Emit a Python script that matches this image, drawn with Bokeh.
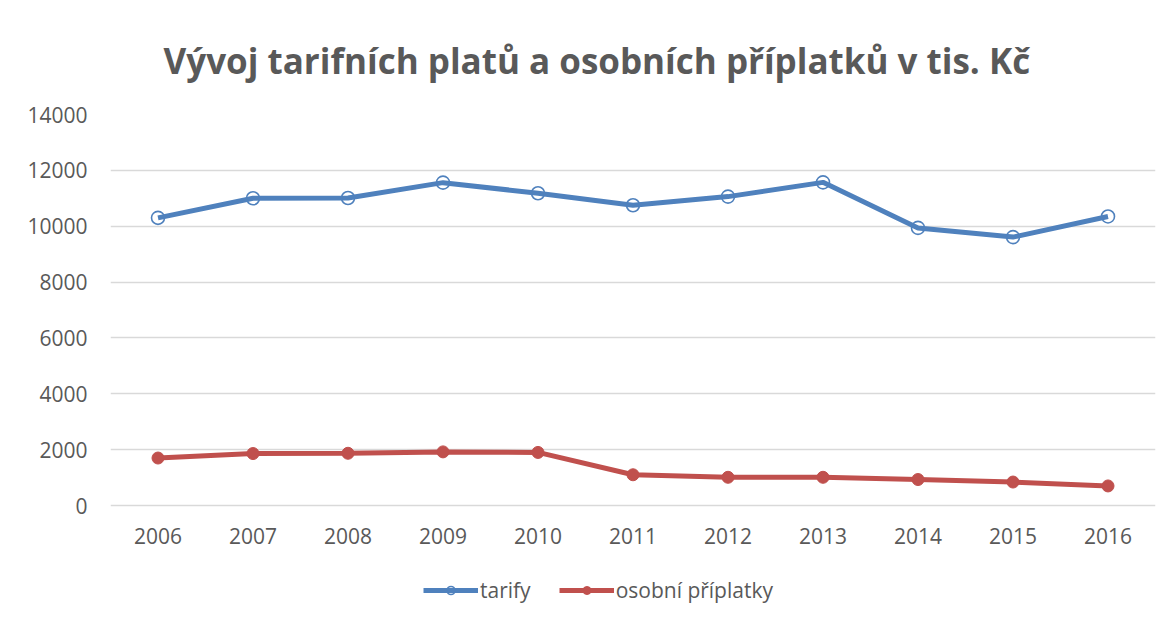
from bokeh.plotting import figure
from bokeh.models import Range1d, FixedTicker, Legend, LegendItem
from bokeh.core.properties import value
from bokeh.embed import file_html
from bokeh.resources import INLINE

years = [2006, 2007, 2008, 2009, 2010, 2011, 2012, 2013, 2014, 2015, 2016]
year_labels = [str(y) for y in years]
tarify = [10300, 11000, 11010, 11560, 11180, 10750, 11060, 11570, 9940, 9610, 10350]
priplatky = [1700, 1860, 1870, 1920, 1900, 1100, 1010, 1010, 930, 840, 700]
y_ticks = [0, 2000, 4000, 6000, 8000, 10000, 12000, 14000]

title_text = "Vývoj tarifních platů a osobních příplatků v tis. Kč"
blue = "#4F81BD"
red = "#C0504D"
gray_text = "#595959"
font = "Open Sans"

# frame extends below zero so that the legend area is part of the frame
px_per_unit = 391 / 14000
y_bottom = -108 / px_per_unit

p = figure(frame_width=1045, frame_height=499, output_backend="svg", toolbar_location=None,
           x_range=Range1d(2005.5, 2016.5), y_range=Range1d(y_bottom, 14000),
           min_border_left=110, min_border_right=7, min_border_top=114,
           min_border_bottom=0)

p.outline_line_color = None
p.background_fill_color = "white"
p.border_fill_color = "white"

p.title.text = title_text
p.title.align = "left"
p.title.offset = 53
p.title.text_font = font
p.title.text_font_size = "35px"
p.title.text_font_style = "bold"
p.title.text_color = gray_text
p.title.standoff = 61

p.xgrid.visible = False
p.ygrid.grid_line_color = "#D9D9D9"
p.ygrid.grid_line_width = 1.5

p.xaxis.visible = False
p.yaxis.ticker = FixedTicker(ticks=y_ticks)
p.yaxis.axis_line_color = None
p.yaxis.major_tick_line_color = None
p.yaxis.minor_tick_line_color = None
p.yaxis.major_tick_out = 0
p.yaxis.major_tick_in = 0
p.yaxis.major_label_text_font = font
p.yaxis.major_label_text_font_size = "21px"
p.yaxis.major_label_text_color = gray_text
p.yaxis.major_label_standoff = 23

# category (year) labels under the zero line
p.text(x=years, y=[0] * len(years), text=year_labels, y_offset=30,
       text_align="center", text_baseline="middle", text_font_size="21px",
       text_color=gray_text, text_font=value(font))

l1 = p.line(years, tarify, line_width=5, line_color=blue)
m1 = p.scatter(years, tarify, marker="circle", size=13, fill_color="white",
               fill_alpha=0.0, line_color=blue, line_width=1.6)
l2 = p.line(years, priplatky, line_width=5, line_color=red)
m2 = p.scatter(years, priplatky, marker="circle", size=12, fill_color=red,
               line_color=red)

legend = Legend(items=[LegendItem(label="tarify", renderers=[l1, m1]),
                       LegendItem(label="osobní příplatky", renderers=[l2, m2])],
                orientation="horizontal", location=(313, 9))
legend.label_text_font = font
legend.label_text_font_size = "21px"
legend.label_text_color = gray_text
legend.glyph_width = 55
legend.glyph_height = 20
legend.label_standoff = 2
legend.spacing = 28
legend.border_line_color = None
legend.background_fill_alpha = 0
legend.margin = 0
legend.padding = 0
p.add_layout(legend, "center")

open("out.html", "w").write(file_html(p, INLINE))
